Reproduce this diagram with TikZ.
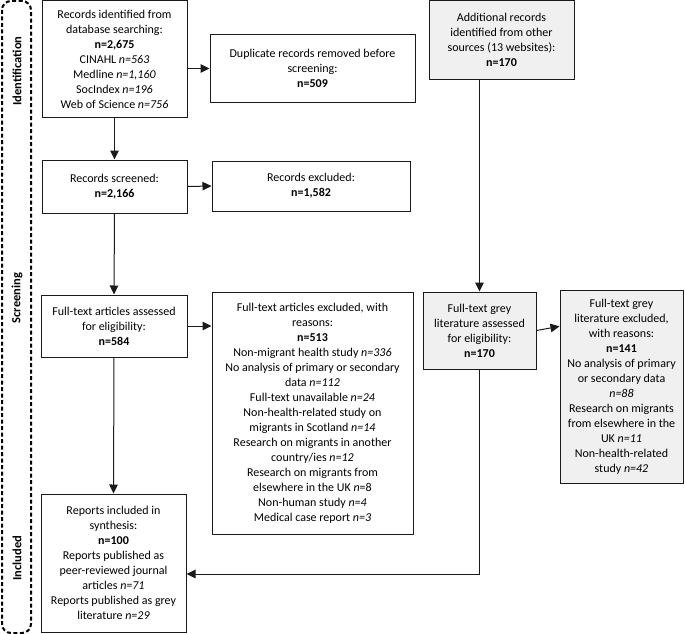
\documentclass[tikz,border=0pt]{standalone}
\usepackage{fontspec}
\setmainfont{Carlito}
\usetikzlibrary{arrows.meta,calc}
\definecolor{greybox}{HTML}{F0F0F0}
\definecolor{lineclr}{HTML}{1A1A1A}
\tikzset{
  box/.style={draw=lineclr, line width=1pt, fill=white, align=center, inner sep=2pt,
    font=\fontsize{12}{15}\selectfont},
  gbox/.style={box, fill=greybox},
  conn/.style={draw=lineclr, line width=1pt, -{Triangle[length=9pt,width=8.5pt]}},
  stage/.style={font=\fontsize{12.5}{15}\selectfont\bfseries, rotate=90},
  phasebox/.style={draw=black, line width=2pt, dash pattern=on 4pt off 2.5pt, rounded corners=9pt}
}
\begin{document}
\begin{tikzpicture}[x=1pt,y=-1pt]
\useasboundingbox (0,0) rectangle (685,634);
% phase frame
\draw[phasebox] (2,1) rectangle (31,633);
\node[stage] (lid) at (17,71) {Identification};
\node[stage] (lsc) at (17,298) {Screening};
\node[stage] (lin) at (17,558) {Included};

% boxes
\node[box, minimum width=145pt, minimum height=116pt] (A) at (114.5,59)
 {Records identified from\\database searching:\\\textbf{n=2,675}\\CINAHL \textit{n=563}\\Medline \textit{n=1,160}\\SocIndex \textit{n=196}\\Web of Science \textit{n=756}};
\node[box, minimum width=205pt, minimum height=67pt] (D) at (312.5,68.5)
 {Duplicate records removed before\\screening:\\\textbf{n=509}};
\node[gbox, minimum width=145pt, minimum height=78pt] (Ad) at (501.5,40)
 {Additional records\\identified from other\\sources (13 websites):\\\textbf{n=170}};
\node[box, minimum width=145pt, minimum height=53pt] (S) at (114.5,186.5)
 {Records screened:\\\textbf{n=2,166}};
\node[box, minimum width=198pt, minimum height=50pt] (E) at (311,186)
 {Records excluded:\\\textbf{n=1,582}};
\node[box, minimum width=146pt, minimum height=62pt] (F) at (114,326)
 {Full-text articles assessed\\for eligibility:\\\textbf{n=584}};
\node[box, minimum width=201pt, minimum height=242pt] (FE) at (312.5,413)
 {Full-text articles excluded, with\\reasons:\\\textbf{n=513}\\Non-migrant health study \textit{n=336}\\No analysis of primary or secondary\\data \textit{n=112}\\Full-text unavailable \textit{n=24}\\Non-health-related study on\\migrants in Scotland \textit{n=14}\\Research on migrants in another\\country/ies \textit{n=12}\\Research on migrants from\\elsewhere in the UK \textit{n}=8\\Non-human study \textit{n=4}\\Medical case report \textit{n=3}};
\node[gbox, minimum width=113pt, minimum height=77pt] (G1) at (479.5,330.5)
 {Full-text grey\\literature assessed\\for eligibility:\\\textbf{n=170}};
\node[gbox, minimum width=123pt, minimum height=193pt] (G2) at (621.5,386.5)
 {Full-text grey\\literature excluded,\\with reasons:\\\textbf{n=141}\\No analysis of primary\\or secondary data\\\textit{n=88}\\Research on migrants\\from elsewhere in the\\UK \textit{n=11}\\Non-health-related\\study \textit{n=42}};
\node[box, minimum width=145pt, minimum height=138pt] (I) at (113.5,563)
 {Reports included in\\synthesis:\\\textbf{n=100}\\Reports published as\\peer-reviewed journal\\articles \textit{n=71}\\Reports published as grey\\literature \textit{n=29}};

% connectors
\draw[conn] (A.east |- D.west) -- (D.west);
\draw[conn] (A.south) -- (S.north);
\draw[conn] (S.east) -- (E.west);
\draw[conn] (S.south) -- (F.north);
\draw[conn] (F.east) -- (F.east -| FE.west);
\draw[conn] (F.south) -- (I.north);
\draw[conn] (G1.north |- Ad.south) -- (G1.north);
\draw[conn] (G1.east) -- ($(G2.north west)!0.19!(G2.south west)$);
\coordinate (turn) at (479.5,574);
\draw[conn] (G1.south) -- (turn) -- (turn -| I.east);
\end{tikzpicture}
\end{document}
